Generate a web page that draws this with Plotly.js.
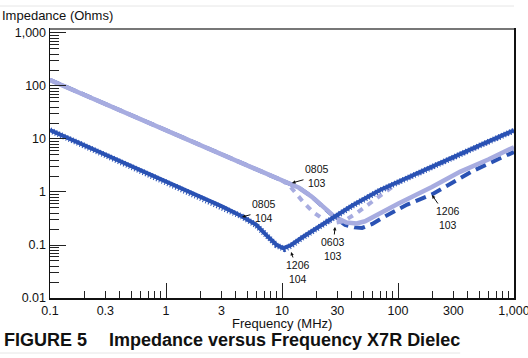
<!DOCTYPE html>
<html>
<head>
<meta charset="utf-8">
<script src="https://cdn.plot.ly/plotly-3.0.1.min.js"></script>
<style>html,body{margin:0;padding:0;background:#fff;}#chart{width:528px;height:358px;}</style>
</head>
<body>
<div id="chart"></div>
<script>
// Frequency (MHz) and impedance (Ohms)
const f_0805_103 = [0.1, 0.3, 1, 3, 10, 14, 18, 22.5, 28.5, 36, 44, 52, 61, 70, 100, 196, 342, 600, 1000];
const z_0805_103 = [130, 46, 14.6, 5.1, 1.65, 1.2, 0.82, 0.52, 0.34, 0.265, 0.255, 0.28, 0.34, 0.40, 0.6, 1.24, 2.4, 4.1, 7.0];

const f_0603_103 = [0.1, 0.3, 1, 3, 10, 11.5, 13, 15.2, 18.5, 23, 28, 34, 44, 57, 70, 100, 230, 500, 1000];
const z_0603_103 = [130, 46, 14.6, 5.1, 1.65, 1.35, 0.98, 0.65, 0.42, 0.3, 0.26, 0.28, 0.40, 0.61, 0.85, 1.5, 3.4, 7.3, 14.2];

const f_1206_103 = [0.1, 0.3, 1, 3, 10, 14, 18, 22.5, 28.5, 35, 42, 49, 60, 74, 100, 120, 196, 292, 443, 685, 1000];
const z_1206_103 = [130, 46, 14.6, 5.1, 1.65, 1.2, 0.82, 0.52, 0.33, 0.24, 0.215, 0.21, 0.25, 0.33, 0.46, 0.58, 0.9, 1.45, 2.5, 3.9, 5.7];

const f_0805_104 = [0.1, 0.3, 1, 2, 3, 4.5, 6, 7.4, 9, 10.3, 12, 15, 20, 27.5, 40, 70, 100, 230, 500, 1000];
const z_0805_104 = [14.8, 5.1, 1.6, 0.82, 0.54, 0.35, 0.24, 0.15, 0.1, 0.087, 0.1, 0.14, 0.21, 0.33, 0.55, 1.09, 1.56, 3.5, 7.5, 14.6];

const f_1206_104 = [0.1, 0.3, 1, 2, 3, 4.5, 6, 7.4, 9, 10.5, 12, 15, 20, 27.5, 40, 70, 100, 230, 500, 1000];
const z_1206_104 = [14.6, 5.0, 1.58, 0.81, 0.53, 0.345, 0.235, 0.148, 0.098, 0.084, 0.097, 0.137, 0.205, 0.325, 0.54, 1.07, 1.54, 3.45, 7.4, 14.4];

const xTickVals = [0.1, 0.3, 1, 3, 10, 30, 100, 300, 1000];
const xTickText = ['0.1', '0.3', '1', '3', '10', '30', '100', '300', '1,000'];
const xDecades = [0.1, 1, 10, 100, 1000];
const yTickVals = [0.01, 0.1, 1, 10, 100, 1000];
const yTickText = ['0.01', '0.1', '1', '10', '100', '1,000'];

const DARK = '#2a52b4';
const LAV = '#a7ace0';

function minorVals(lo, hi, skip) {
  const out = [];
  for (let d = lo; d < hi; d++) {
    for (let m = 2; m <= 9; m++) {
      const v = m * Math.pow(10, d);
      if (!skip || skip.indexOf(m) < 0) out.push(+v.toPrecision(3));
    }
  }
  return out;
}

const traces = [
  {x: f_1206_103, y: z_1206_103, mode: 'lines', name: '1206 103',
   line: {color: DARK, width: 4, dash: '11px,6px'}},
  {x: f_0603_103, y: z_0603_103, mode: 'lines', name: '0603 103',
   line: {color: LAV, width: 4, dash: '6px,6px'}},
  {x: f_0805_103, y: z_0805_103, mode: 'lines', name: '0805 103',
   line: {color: LAV, width: 4.5}},
  {x: f_1206_104, y: z_1206_104, mode: 'lines', name: '1206 104', xaxis: 'x2',
   line: {color: DARK, width: 6, dash: '1px,2px'}},
  {x: f_0805_104, y: z_0805_104, mode: 'lines', name: '0805 104',
   line: {color: DARK, width: 4}}
];

const FONT = 'Liberation Sans, Arial, Helvetica, sans-serif';
const annFont = {family: FONT, size: 10.5, color: '#111'};
function lab(text, x, y, ax, ay) {
  return {text: text, x: x, y: y, xref: 'x', yref: 'y', ax: ax, ay: ay,
    showarrow: true, arrowhead: 2, arrowsize: 0.7, arrowwidth: 1, arrowcolor: '#111',
    font: annFont, align: 'center', standoff: 0};
}

const layout = {
  width: 528, height: 358,
  margin: {l: 50, r: 14, t: 29, b: 60, pad: 0},
  paper_bgcolor: '#fff', plot_bgcolor: '#fff',
  showlegend: false,
  font: {family: FONT, size: 12.5, color: '#111'},
  xaxis: {
    type: 'log', range: [-1, 3], tickmode: 'array', tickvals: xTickVals, ticktext: xTickText,
    ticks: 'inside', ticklen: 7, tickwidth: 1, tickcolor: '#222', ticklabeloverflow: 'allow',
    minor: {tickmode: 'array', tickvals: minorVals(-1, 3, [3]), ticks: 'inside', ticklen: 7, tickwidth: 1, tickcolor: '#222', showgrid: false},
    showgrid: false, zeroline: false, showline: true, linecolor: '#111', linewidth: 1.5, mirror: true,
    tickfont: {size: 12.5}
  },
  xaxis2: {
    type: 'log', range: [-1, 3], overlaying: 'x', anchor: 'y', side: 'bottom',
    tickmode: 'array', tickvals: xDecades, ticks: 'inside', ticklen: 15, tickwidth: 1, tickcolor: '#222',
    showticklabels: false, showgrid: false, zeroline: false, showline: false
  },
  yaxis: {
    type: 'log', range: [-2, 3.075], tickmode: 'array', tickvals: yTickVals, ticktext: yTickText,
    ticks: 'inside', ticklen: 16, tickwidth: 1, tickcolor: '#222',
    minor: {tickmode: 'array', tickvals: minorVals(-2, 3), ticks: 'inside', ticklen: 9, tickwidth: 1, tickcolor: '#222', showgrid: false},
    showgrid: false, zeroline: false, showline: true, linecolor: '#111', linewidth: 1.5, mirror: true,
    tickfont: {size: 12.5}
  },
  shapes: [
    {type: 'line', xref: 'paper', yref: 'paper', x0: 0, x1: 1, y0: 1, y1: 1, line: {color: '#777', width: 2}},
    {type: 'line', xref: 'paper', yref: 'paper', x0: -0.108, x1: 1.0, y0: 1.0855, y1: 1.0855, line: {color: '#e6e6e6', width: 1}},
    {type: 'line', xref: 'paper', yref: 'paper', x0: -0.108, x1: 0.884, y0: -0.2045, y1: -0.2045, line: {color: '#e6e6e6', width: 1}}
  ],
  annotations: [
    {text: 'Impedance (Ohms)', xref: 'paper', yref: 'paper', x: 0, y: 1, xshift: -50, yshift: 14,
     xanchor: 'left', yanchor: 'middle', showarrow: false, font: {family: FONT, size: 13, color: '#111'}},
    {text: 'Frequency (MHz)', xref: 'paper', yref: 'paper', x: 0.5, y: 0, yshift: -25,
     xanchor: 'center', yanchor: 'middle', showarrow: false, font: {family: FONT, size: 13, color: '#111'}},
    {text: '<b>FIGURE 5</b>', xref: 'paper', yref: 'paper', x: 0, y: 0, xshift: -48, yshift: -42,
     xanchor: 'left', yanchor: 'middle', showarrow: false, font: {family: FONT, size: 18, color: '#111'}},
    {text: '<b>Impedance versus Frequency X7R Dielec</b>', xref: 'paper', yref: 'paper', x: 0, y: 0, xshift: 57, yshift: -42,
     xanchor: 'left', yanchor: 'middle', showarrow: false, font: {family: FONT, size: 18, color: '#111'}},
    lab('0805<br>103', 1.086, 0.170, 25, -7),
    lab('0805<br>104', 0.655, -0.472, 22, -6),
    lab('1206<br>104', 1.078, -1.132, 7, 20),
    lab('0603<br>103', 1.457, -0.660, -2, 22),
    lab('1206<br>103', 2.293, -0.057, 16, 23)
  ]
};

Plotly.newPlot('chart', traces, layout, {staticPlot: true, displayModeBar: false});
</script>
</body>
</html>
